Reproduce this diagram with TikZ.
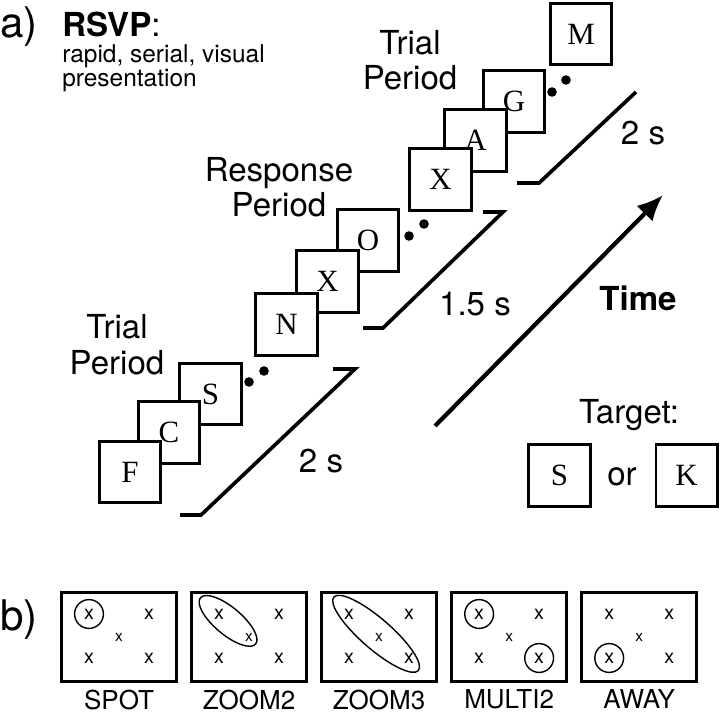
\documentclass[tikz,border=0pt]{standalone}
\usepackage{fontspec}
\setmainfont{TeX Gyre Heros}
\newfontfamily\framefont{Liberation Serif}
\usetikzlibrary{positioning, arrows.meta, calc}

\begin{document}
\begin{tikzpicture}[
  x=0.025cm, y=-0.025cm,
  rsvpframe/.style={rectangle, draw=black, line width=2pt, fill=white,
                    minimum size=1.53cm, inner sep=0pt,
                    font=\framefont\fontsize{22}{22}\selectfont},
  rsvpbracket/.style={line width=2.6pt},
  rsvplabel/.style={align=center, inner sep=0pt, anchor=base,
                    font=\fontsize{23.5}{25}\selectfont},
  panellabel/.style={inner sep=0pt, anchor=base west,
                     font=\fontsize{30}{30}\selectfont},
  timearrow/.style={-{Latex[length=6.5mm, width=5.6mm]}, line width=3pt},
  layoutbox/.style={rectangle, draw=black, line width=2pt,
                    minimum width=2.88cm, minimum height=2.23cm, inner sep=0pt},
  layoutname/.style={inner sep=0pt, font=\fontsize{18.5}{18.5}\selectfont},
  cross/.style={inner sep=0pt, font=\fontsize{14}{14}\selectfont},
  crosssmall/.style={inner sep=0pt, font=\fontsize{11}{11}\selectfont},
  focus/.style={line width=1pt}
]
\useasboundingbox[fill=white] (0,0) rectangle (720,714);

% -------- PANEL A: TITLES --------
\node[panellabel] (pa) at (0,38) {a)};
\node[panellabel, font=\fontsize{23.5}{23.5}\selectfont] (rsvp) at (62,37) {\textbf{RSVP}:};
\node[inner sep=0pt, anchor=base west, align=left,
      font=\fontsize{17.4}{17.2}\selectfont] (rsvpsub) at (62,87)
      {rapid, serial, visual\\presentation};

% -------- PANEL A: FIRST TRIAL PERIOD --------
\node[rsvplabel] (trial1) at (117,374) {Trial\\Period};
\node[rsvpframe] (s1) at (210.5,394) {S};
\node[rsvpframe] (c1) at (169,432.5) {C};
\node[rsvpframe] (f1) at (130,472) {F};
\fill (249,382) circle[radius=0.12cm] (264,371) circle[radius=0.12cm];
\draw[rsvpbracket] (180,515) -- (201,515) -- (355,369) -- (333,369);
\node[rsvplabel] (dur1) at (321,472) {2 s};

% -------- PANEL A: RESPONSE PERIOD --------
\node[rsvplabel] (resp) at (279,217) {Response\\Period};
\node[rsvpframe] (o2) at (368,240.5) {O};
\node[rsvpframe] (x2) at (327.5,281.5) {X};
\node[rsvpframe] (n2) at (286.5,324.5) {N};
\fill (409,236) circle[radius=0.12cm] (424,224) circle[radius=0.12cm];
\draw[rsvpbracket] (363,328) -- (383,328) -- (503,212) -- (483,212);
\node[rsvplabel] (dur2) at (475,315) {1.5 s};

% -------- PANEL A: SECOND TRIAL PERIOD --------
\node[rsvplabel] (trial2) at (410,90) {Trial\\Period};
\node[rsvpframe] (m3) at (581,34) {M};
\node[rsvpframe] (g3) at (514,101.5) {G};
\node[rsvpframe] (a3) at (475.5,140.5) {A};
\node[rsvpframe] (x3) at (440.5,179.5) {X};
\fill (552,92) circle[radius=0.12cm] (566,80) circle[radius=0.12cm];
\draw[rsvpbracket] (517,183) -- (539,183) -- (636,92);
\node[rsvplabel] (dur3) at (643,145) {2 s};

% Time axis
\coordinate (t0) at (435,426);
\coordinate (t1) at (663,195);
\draw[timearrow] (t0) -- (t1);
\node[rsvplabel] (time) at (638,310) {\textbf{Time}};

% Target letters
\node[rsvplabel] (target) at (629,423) {Target:};
\node[rsvpframe] (ts) at (559.5,475.5) {S};
\node[rsvpframe] (tk) at (686.5,475.5) {K};
\node[rsvplabel] (or) at (622,485) {or};

% -------- PANEL B: ATTENTION LAYOUTS --------
\node[panellabel] (pb) at (0,630) {b)};
\node[layoutbox] (spot) at (119,637) {};
\node[layoutbox, right=0.3cm of spot] (zoomtwo) {};
\node[layoutbox, right=0.3cm of zoomtwo] (zoomthree) {};
\node[layoutbox, right=0.3cm of zoomthree] (multitwo) {};
\node[layoutbox, right=0.3cm of multitwo] (away) {};

\foreach \p/\name in {spot/SPOT, zoomtwo/ZOOM2, zoomthree/ZOOM3,
                      multitwo/MULTI2, away/AWAY} {
  \node[cross] (\p-tl) at ($(\p)+(-30,-23)$) {x};
  \node[cross] (\p-tr) at ($(\p)+(30,-23)$) {x};
  \node[crosssmall] (\p-c) at ($(\p)+(0,0)$) {x};
  \node[cross] (\p-bl) at ($(\p)+(-30,21)$) {x};
  \node[cross] (\p-br) at ($(\p)+(30,21)$) {x};
  \node[layoutname, below=4.5pt of \p] (\p-name) {\name};
}

% Attended locations
\draw[focus] (spot-tl) circle[radius=0.36cm];
\draw[focus] ($(zoomtwo-tl)!0.3!(zoomtwo-c)$)
  ellipse[x radius=0.9cm, y radius=0.34cm, rotate=-40];
\draw[focus] ($(zoomthree-tl)!0.45!(zoomthree-br)$)
  ellipse[x radius=1.4cm, y radius=0.38cm, rotate=-41];
\draw[focus] (multitwo-tl) circle[radius=0.36cm];
\draw[focus] (multitwo-br) circle[radius=0.36cm];
\draw[focus] (away-bl) circle[radius=0.36cm];

\end{tikzpicture}
\end{document}
